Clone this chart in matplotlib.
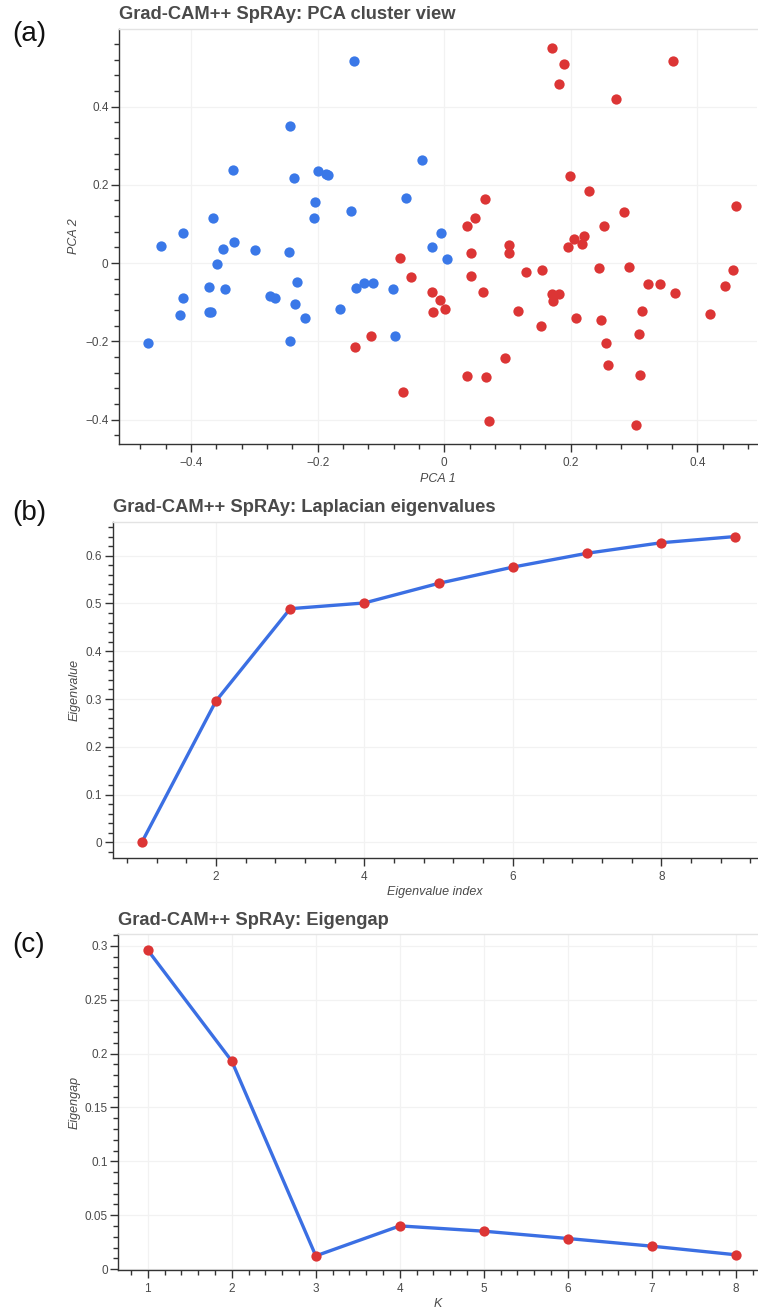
import matplotlib
matplotlib.use("Agg")
import matplotlib.pyplot as plt
from matplotlib.ticker import MultipleLocator, AutoMinorLocator, FuncFormatter

plt.rcParams['font.family'] = ['Liberation Sans', 'DejaVu Sans']

# ---------------- data ----------------
blue_x = [-0.4675, -0.4475, -0.412, -0.4127, -0.417, -0.372, -0.371, -0.368, -0.366, -0.359,
          -0.3495, -0.347, -0.334, -0.332, -0.299, -0.276, -0.268, -0.245, -0.244, -0.244,
          -0.237, -0.236, -0.232, -0.220, -0.199, -0.204, -0.205, -0.186, -0.183, -0.164,
          -0.147, -0.142, -0.139, -0.127, -0.112, -0.081, -0.078, -0.060, -0.035, -0.019,
          -0.005, 0.005]
blue_y = [-0.205, 0.045, 0.077, -0.088, -0.133, -0.060, -0.126, -0.126, 0.116, -0.001,
          0.0365, -0.067, 0.238, 0.053, 0.034, -0.085, -0.090, 0.028, -0.198, 0.351,
          0.217, -0.105, -0.0485, -0.141, 0.236, 0.156, 0.114, 0.228, 0.224, -0.116,
          0.134, 0.516, -0.063, -0.0495, -0.050, -0.066, -0.186, 0.166, 0.264, 0.041,
          0.077, 0.011]

red_x = [0.170, 0.189, 0.182, 0.271, 0.362, 0.198, 0.228, 0.064, 0.461, 0.284,
         0.048, 0.0365, 0.252, 0.2055, 0.221, 0.218, 0.195, 0.103, 0.103, 0.042,
         -0.070, -0.052, -0.019, -0.0066, -0.0177, 0.0017, -0.1405, -0.1157, -0.0646, 0.0428,
         0.0618, 0.0356, 0.066, 0.0708, 0.0965, 0.116, 0.130, 0.154, 0.153, 0.170,
         0.181, 0.172, 0.208, 0.244, 0.248, 0.255, 0.259, 0.292, 0.3215, 0.341,
         0.364, 0.312, 0.307, 0.309, 0.303, 0.420, 0.444, 0.457]
red_y = [0.550, 0.508, 0.458, 0.418, 0.516, 0.222, 0.185, 0.163, 0.146, 0.131,
         0.116, 0.094, 0.094, 0.062, 0.070, 0.050, 0.041, 0.046, 0.0255, 0.0255,
         0.013, -0.035, -0.074, -0.093, -0.126, -0.117, -0.213, -0.1856, -0.330, -0.033,
         -0.0725, -0.288, -0.291, -0.4026, -0.2436, -0.1225, -0.022, -0.018, -0.160, -0.079,
         -0.079, -0.097, -0.141, -0.0128, -0.1465, -0.205, -0.260, -0.010, -0.053, -0.053,
         -0.0766, -0.122, -0.182, -0.287, -0.4146, -0.1294, -0.058, -0.017]

eig_index = [1, 2, 3, 4, 5, 6, 7, 8, 9]
eig_values = [0.0, 0.296, 0.489, 0.501, 0.542, 0.576, 0.605, 0.627, 0.640]

gap_k = [1, 2, 3, 4, 5, 6, 7, 8]
gap_values = [0.296, 0.193, 0.0123, 0.0401, 0.0352, 0.0284, 0.0213, 0.0133]

# ---------------- style ----------------
BLUE = "#3a78e8"
RED = "#dc3535"
LINE = "#3b6fe3"
AXC = "#333333"
TXT = "#4a4a4a"
GRID = "#f2f2f2"

W, H = 758, 1312
fig = plt.figure(figsize=(W / 100, H / 100), dpi=100)


def ax_rect(left, top, right, bottom):
    return [left / W, 1 - bottom / H, (right - left) / W, (bottom - top) / H]


def fmt(v, pos):
    s = ("%g" % round(v, 6))
    return s.replace("-", "\u2212")


def style(ax, xmaj, ymaj):
    ax.xaxis.set_major_locator(MultipleLocator(xmaj))
    ax.yaxis.set_major_locator(MultipleLocator(ymaj))
    ax.xaxis.set_minor_locator(AutoMinorLocator(5))
    ax.yaxis.set_minor_locator(AutoMinorLocator(5))
    ax.xaxis.set_major_formatter(FuncFormatter(fmt))
    ax.yaxis.set_major_formatter(FuncFormatter(fmt))
    for s in ("left", "bottom"):
        ax.spines[s].set_color(AXC)
        ax.spines[s].set_linewidth(1.0)
    ax.spines["top"].set_color("#e3e3e3")
    ax.spines["top"].set_linewidth(1.0)
    ax.spines["right"].set_visible(False)
    ax.tick_params(which="major", direction="out", length=6, width=1.0,
                   color=AXC, labelcolor=TXT, labelsize=8.5)
    ax.tick_params(which="minor", direction="out", length=3.5, width=1.0, color=AXC)
    ax.tick_params(axis="y", which="major", pad=1.5)
    ax.tick_params(axis="x", which="major", pad=3.5)
    ax.grid(True, which="major", color=GRID, linewidth=0.9)
    ax.set_axisbelow(True)


def title(ax, text):
    ax.set_title(text, loc="left", fontsize=13.2, fontweight="bold", color=TXT, pad=7)


LBL = dict(fontstyle="italic", color=TXT, fontsize=9)

# ---------------- (a) ----------------
ax1 = fig.add_axes(ax_rect(119, 29, 757, 444))
style(ax1, 0.2, 0.2)
ax1.scatter(blue_x, blue_y, s=55, color=BLUE, linewidths=0, zorder=3)
ax1.scatter(red_x, red_y, s=55, color=RED, linewidths=0, zorder=3)
ax1.set_xlim(-0.5138, 0.4942)
ax1.set_ylim(-0.462, 0.598)
ax1.set_xlabel("PCA 1", labelpad=3, **LBL)
ax1.set_ylabel("PCA 2", labelpad=4, **LBL)
title(ax1, "Grad-CAM++ SpRAy: PCA cluster view")

# ---------------- (b) ----------------
ax2 = fig.add_axes(ax_rect(112.7, 521.7, 757, 857.7))
style(ax2, 2, 0.1)
ax2.plot(eig_index, eig_values, color=LINE, linewidth=2.4, zorder=3)
ax2.plot(eig_index, eig_values, linestyle="none", marker="o", markersize=7.4,
         color=RED, markeredgewidth=0, zorder=4)
ax2.set_xlim(0.608, 9.29)
ax2.set_ylim(-0.032, 0.671)
ax2.set_xlabel("Eigenvalue index", labelpad=2, **LBL)
ax2.set_ylabel("Eigenvalue", labelpad=4, **LBL)
title(ax2, "Grad-CAM++ SpRAy: Laplacian eigenvalues")

# ---------------- (c) ----------------
ax3 = fig.add_axes(ax_rect(118.3, 934.3, 757, 1270))
style(ax3, 1, 0.05)
ax3.plot(gap_k, gap_values, color=LINE, linewidth=2.4, zorder=3)
ax3.plot(gap_k, gap_values, linestyle="none", marker="o", markersize=7.4,
         color=RED, markeredgewidth=0, zorder=4)
ax3.set_xlim(0.65, 8.25)
ax3.set_ylim(-0.0008, 0.3106)
ax3.set_xlabel("K", labelpad=2, **LBL)
ax3.set_ylabel("Eigengap", labelpad=3, **LBL)
title(ax3, "Grad-CAM++ SpRAy: Eigengap")

# ---------------- panel labels ----------------
for lab, yc in (("(a)", 34), ("(b)", 513), ("(c)", 945)):
    fig.text(12 / W, 1 - yc / H, lab, fontsize=20, color="#111111",
             ha="left", va="center")

fig.savefig("out.png", dpi=100, facecolor="white")
